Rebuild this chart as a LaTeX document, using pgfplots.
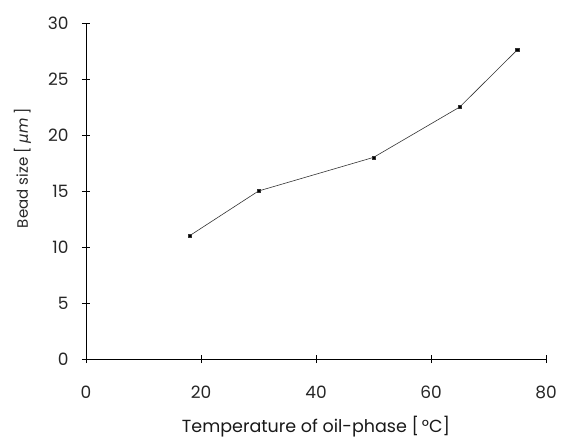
\documentclass[border=0pt]{standalone}
\usepackage{fontspec}
\setmainfont{Poppins}
\newfontfamily\dejavu{DejaVu Sans}
\usepackage{pgfplots}
\pgfplotsset{compat=1.18}
\begin{document}
\begin{tikzpicture}
\begin{axis}[
  scale only axis,
  width=460pt, height=336pt,
  at={(0,0)}, anchor=south west,
  xmin=0, xmax=80, ymin=0, ymax=30,
  axis x line=bottom, axis y line=left,
  axis line style={-, line width=0.8pt},
  xtick={0,20,40,60,80},
  ytick={0,5,10,15,20,25,30},
  tick align=center,
  major tick length=8pt,
  tick style={line width=0.8pt, black},
  /pgf/number format/assume math mode=true,
  ticklabel style={font=\fontsize{17}{19}\selectfont, text=black!85},
  xticklabel style={yshift=-19pt},
  yticklabel style={xshift=-10pt},
  xlabel={Temperature of oil-phase [\,°C]},
  ylabel={Bead size [\ {\dejavu\itshape μ}\textit{m}\ ]},
  xlabel style={font=\fontsize{17.5}{19}\selectfont, text=black!90, yshift=-11pt},
  ylabel style={font=\fontsize{15}{17}\selectfont, text=black!85, yshift=10pt, xshift=23pt},
  clip=false,
]
\addplot[black!80, line width=0.6pt, mark=square*, mark size=1.6pt, mark options={fill=black}]
coordinates {(18,11) (30,15) (50,18) (65,22.5) (75,27.6)};
\end{axis}
\path (-86pt,-78pt) rectangle (475pt,359pt);
\end{tikzpicture}
\end{document}
